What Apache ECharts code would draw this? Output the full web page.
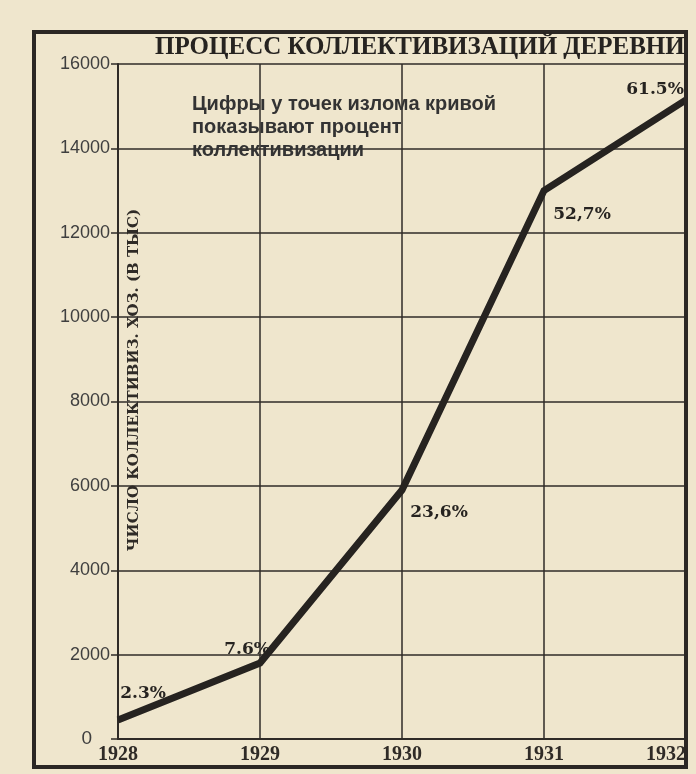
<!DOCTYPE html>
<html>
<head>
<meta charset="utf-8">
<script src="https://cdn.jsdelivr.net/npm/echarts@6/dist/echarts.min.js"></script>
<style>
html,body{margin:0;padding:0;background:#efe6cd;}
#chart{width:696px;height:774px;}
</style>
</head>
<body>
<div id="chart"></div>
<script>
// Data
const years = ['1928', '1929', '1930', '1931', '1932'];
const households = [450, 1800, 5900, 13000, 15150]; // thousands of collectivized households
const percentLabels = ['2.3%', '7.6%', '23,6%', '52,7%', '61.5%'];
const yTicks = [0, 2000, 4000, 6000, 8000, 10000, 12000, 14000, 16000];
const titleText = 'ПРОЦЕСС КОЛЛЕКТИВИЗАЦИЙ ДЕРЕВНИ';
const yAxisTitle = 'ЧИСЛО КОЛЛЕКТИВИЗ. ХОЗ. (В ТЫС)';
const noteLines = ['Цифры у точек излома кривой', 'показывают процент', 'коллективизации'];

// Label placement relative to the point (style, not data)
const labelOffsets = [[25, -26], [-13, -13], [37, 22], [38, 24], [-31, -10]];

const ink = '#2f2b27';
const SYM = 2;
const chart = echarts.init(document.getElementById('chart'), null, {renderer: 'canvas'});

const seriesData = households.map((v, i) => ({
  value: v,
  label: {
    show: true,
    formatter: percentLabels[i],
    position: [SYM / 2 + labelOffsets[i][0], SYM / 2 + labelOffsets[i][1]],
    align: 'center',
    verticalAlign: 'middle'
  }
}));

chart.setOption({
  backgroundColor: '#efe6cd',
  animation: false,
  grid: {left: 118, right: 10, top: 64, bottom: 35, containLabel: false},
  xAxis: {
    type: 'category',
    data: years,
    boundaryGap: false,
    axisLine: {show: true, lineStyle: {color: ink, width: 2}},
    axisTick: {show: false},
    axisLabel: {
      color: ink, fontFamily: 'Liberation Serif', fontWeight: 'bold', fontSize: 20,
      margin: 6, alignMaxLabel: 'right'
    },
    splitLine: {show: true, lineStyle: {color: ink, width: 1.5}}
  },
  yAxis: {
    type: 'value',
    min: yTicks[0],
    max: yTicks[yTicks.length - 1],
    interval: yTicks[1] - yTicks[0],
    axisLine: {show: true, lineStyle: {color: ink, width: 2}},
    axisTick: {show: true, length: 7, lineStyle: {color: ink, width: 1.5}},
    axisLabel: {
      color: '#3f3f3f', fontFamily: 'Liberation Sans', fontSize: 18, margin: 8,
      formatter: v => v === 0 ? '{z|0}' : String(v),
      rich: {z: {fontFamily: 'Liberation Sans', fontSize: 19, color: '#3f3f3f', padding: [0, 18, 0, 0]}}
    },
    splitLine: {show: true, lineStyle: {color: ink, width: 1.5}}
  },
  series: [{
    type: 'line',
    data: seriesData,
    symbol: 'circle',
    symbolSize: SYM,
    showSymbol: true,
    itemStyle: {color: 'rgba(0,0,0,0)', borderWidth: 0},
    lineStyle: {color: '#262320', width: 7, join: 'miter'},
    label: {
      color: '#262320', fontFamily: 'DejaVu Serif', fontWeight: 'bold', fontSize: 17
    },
    labelLayout: {hideOverlap: false},
    emphasis: {disabled: true},
    z: 5
  }],
  graphic: [
    {
      type: 'rect', silent: true, z: 100,
      shape: {x: 34, y: 32, width: 652, height: 735},
      style: {fill: 'none', stroke: '#2b2724', lineWidth: 4}
    },
    {
      type: 'text', silent: true, z: 100,
      x: 155, y: 48,
      style: {text: titleText, fill: '#262320', font: 'bold 25px "Liberation Serif"', verticalAlign: 'middle'}
    },
    {
      type: 'text', silent: true, z: 100,
      x: 134, y: 380, rotation: Math.PI / 2,
      style: {text: yAxisTitle, fill: '#2f2b27', font: 'bold 15px "DejaVu Serif"', align: 'center', verticalAlign: 'middle'}
    },
    {
      type: 'text', silent: true, z: 100,
      x: 192, y: 93,
      style: {text: noteLines.join('\n'), fill: '#333', font: 'bold 20px "Liberation Sans"', lineHeight: 23, verticalAlign: 'top'}
    }
  ]
});
</script>
</body>
</html>
